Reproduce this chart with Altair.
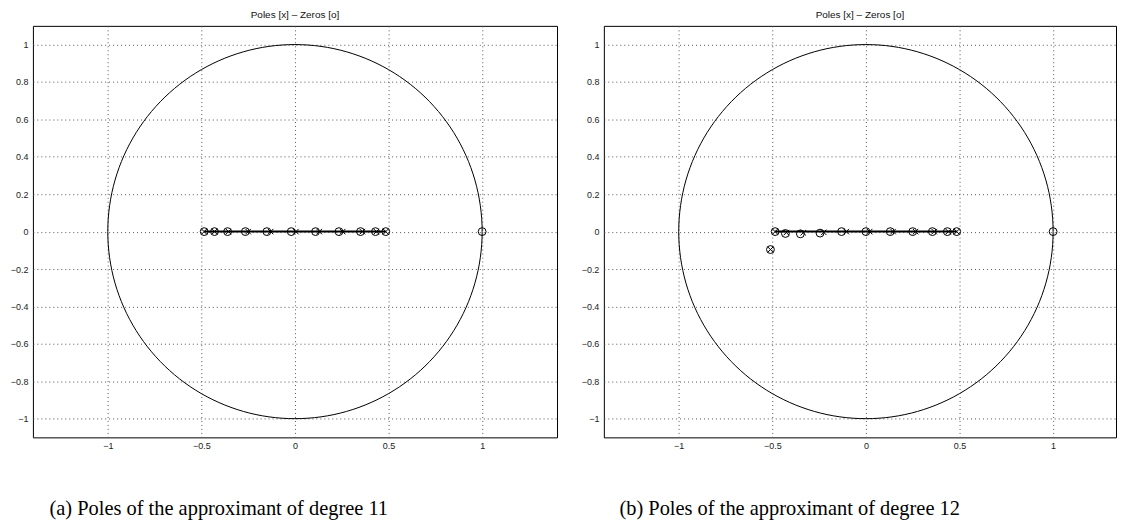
import altair as alt
import pandas as pd

# ---- data ----
zeros_a_re = [-0.485, -0.43, -0.36, -0.265, -0.15, -0.02, 0.11, 0.235, 0.35, 0.43, 0.485, 1.0]
zeros_a_im = [0, 0, 0, 0, 0, 0, 0, 0, 0, 0, 0, 0]
poles_a_re = [-0.485, -0.43, -0.355, -0.25, -0.13, 0.005, 0.13, 0.255, 0.36, 0.435, 0.485]
poles_a_im = [0, 0, 0, 0, 0, 0, 0, 0, 0, 0, 0]

zeros_b_re = [-0.51, -0.485, -0.43, -0.35, -0.245, -0.13, 0.0, 0.13, 0.25, 0.355, 0.435, 0.485, 1.0]
zeros_b_im = [-0.096, 0, -0.01, -0.012, -0.008, 0, 0, 0, 0, 0, 0, 0, 0]
poles_b_re = [-0.51, -0.485, -0.425, -0.335, -0.225, -0.105, 0.02, 0.145, 0.265, 0.365, 0.44, 0.485]
poles_b_im = [-0.096, 0, -0.005, -0.006, -0.004, 0, 0, 0, 0, 0, 0, 0]

segment_a = [-0.485, 0.485]
segment_b = [-0.485, 0.485]

x_ticks = [-1, -0.5, 0, 0.5, 1]
y_ticks = [-1, -0.8, -0.6, -0.4, -0.2, 0, 0.2, 0.4, 0.6, 0.8, 1]

panel_title = "Poles [x] \u2013 Zeros [o]"
caption_a = "(a) Poles of the approximant of degree 11"
caption_b = "(b) Poles of the approximant of degree 12"

Y_DOMAIN = [-1.1, 1.1]
H = 413


def panel(zre, zim, pre, pim, seg, caption, xdomain, width):
    xs = alt.Scale(domain=xdomain, nice=False, zero=False)
    ys = alt.Scale(domain=Y_DOMAIN, nice=False, zero=False)
    xax = alt.Axis(values=x_ticks, format="~g", grid=True, ticks=False, domain=False,
                   labelFontSize=9, labelFont="Liberation Sans", labelColor="#222",
                   labelPadding=4, title=caption, titleFont="Liberation Serif",
                   titleFontSize=20.5, titleFontWeight="normal", titleColor="black",
                   titlePadding=48, titleX=186, titleAlign="center")
    yax = alt.Axis(values=y_ticks, format="~g", grid=True, ticks=False, domain=False,
                   labelFontSize=9, labelFont="Liberation Sans", labelColor="#222",
                   labelPadding=5, minExtent=24, maxExtent=24, title=None)
    X = alt.X("re:Q", scale=xs, axis=xax)
    Y = alt.Y("im:Q", scale=ys, axis=yax)

    circle = (
        alt.Chart(alt.sequence(0, 361, 2, as_="t"))
        .transform_calculate(re="cos(datum.t*PI/180)", im="sin(datum.t*PI/180)")
        .mark_line(color="black", strokeWidth=1)
        .encode(x=X, y=Y, order="t:Q")
    )
    seg_df = pd.DataFrame({"re": [seg[0]], "re2": [seg[1]], "im": [0.0]})
    rule = alt.Chart(seg_df).mark_rule(color="black", strokeWidth=2).encode(
        x=X, x2="re2:Q", y=Y
    )
    zdf = pd.DataFrame({"re": zre, "im": zim})
    pdf = pd.DataFrame({"re": pre, "im": pim})
    zeros = alt.Chart(zdf).mark_point(shape="circle", size=62, filled=False,
                                      color="black", strokeWidth=1, opacity=1).encode(x=X, y=Y)
    poles = alt.Chart(pdf).mark_point(shape="M-1,-1L1,1M1,-1L-1,1", size=30, filled=False,
                                      color="black", strokeWidth=1, opacity=1).encode(x=X, y=Y)
    return alt.layer(circle, rule, zeros, poles).properties(
        width=width, height=H,
        title=alt.TitleParams(panel_title, fontSize=10, font="Liberation Sans",
                              fontWeight="normal", color="#111", offset=1, dy=-5),
    )


left = panel(zeros_a_re, zeros_a_im, poles_a_re, poles_a_im, segment_a, caption_a,
             [-1.4, 1.4], 526)
right = panel(zeros_b_re, zeros_b_im, poles_b_re, poles_b_im, segment_b, caption_b,
              [-1.4, 1.336], 514)

chart = (
    alt.hconcat(left, right, spacing=21)
    .properties(padding=0)
    .configure_view(stroke="black", strokeWidth=1)
    .configure_axis(gridDash=[1, 3], gridColor="#555", gridOpacity=1, gridWidth=1)
)

chart.save("out.html", embed_options={"renderer": "svg", "actions": False})
